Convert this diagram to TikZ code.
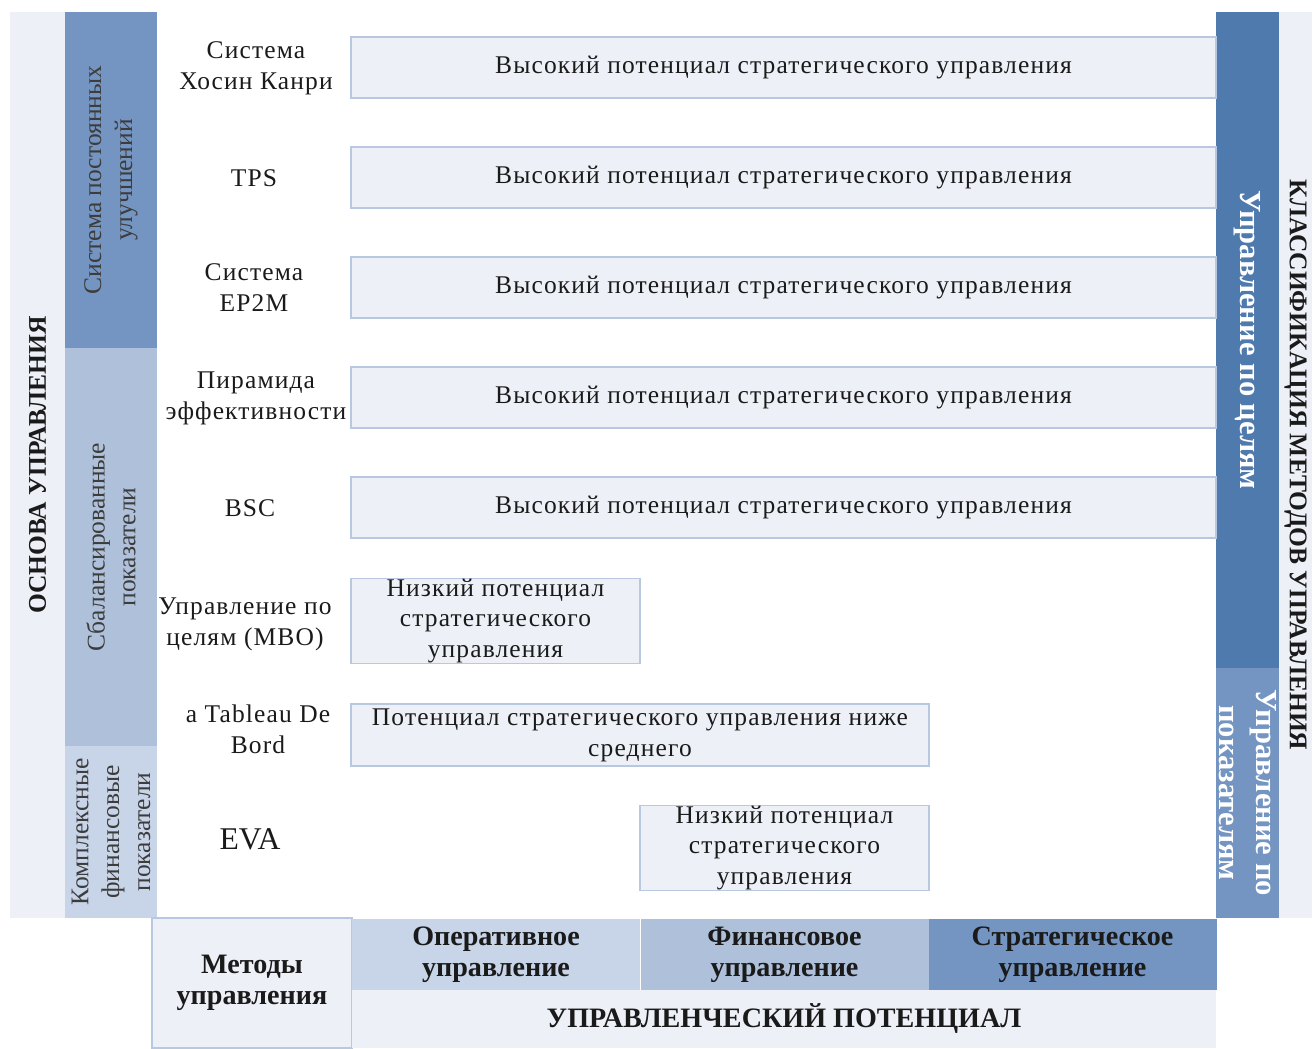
\documentclass[tikz,border=0pt]{standalone}
\usepackage{fontspec}
\setmainfont{Liberation Serif}
\newfontfamily\widefont{Liberation Serif}[LetterSpace=4.5]
\definecolor{pale}{HTML}{EDF1F7}
\definecolor{light}{HTML}{C8D5E8}
\definecolor{medium}{HTML}{AFC1DA}
\definecolor{strong}{HTML}{7495C1}
\definecolor{deep}{HTML}{4F7AAE}
\definecolor{rim}{HTML}{B7C8E0}
\definecolor{ink}{HTML}{1A1A1A}
\definecolor{greyink}{HTML}{3C3C3C}

\begin{document}
\begin{tikzpicture}[x=0.2mm,y=-0.2mm,
  every node/.style={font=\widefont\fontsize{14.5}{17.6}\selectfont,align=center,inner sep=0pt,text=ink},
  band/.style={fill=#1,minimum height=18.4mm,font=\fontsize{14.5}{17.6}\selectfont,text=greyink},
  potbox/.style={fill=pale,draw=rim,line width=1pt},
  bigbold/.style={font=\fontsize{17.4}{21}\selectfont\bfseries},
  headcell/.style={fill=#1,minimum height=14.2mm,minimum width=57.6mm,font=\fontsize{16}{17.6}\selectfont\bfseries}]
\useasboundingbox (0,0) rectangle (1314,1048);

% left side
\node[fill=pale,minimum width=181.2mm,minimum height=11mm,rotate=90,font=\fontsize{14.5}{17.6}\selectfont\bfseries] (osnova) at (37.5,465) {ОСНОВА УПРАВЛЕНИЯ};
\node[band=strong,minimum width=67.2mm,rotate=90] (spu) at (111,180) {Система постоянных\\улучшений};
\node[band=medium,minimum width=79.6mm,rotate=90] (sp) at (111,547) {Сбалансированные\\показатели};
\node[band=light,minimum width=34.4mm,rotate=90] (kfp) at (111,832) {Комплексные\\финансовые\\показатели};

% right side
\node[fill=deep,minimum width=131.2mm,minimum height=12.6mm,rotate=-90,text=white,bigbold] (upc) at (1247.5,340) {Управление по целям};
\node[fill=strong,minimum width=50mm,minimum height=12.6mm,rotate=-90,text=white,bigbold] (upp) at (1247.5,793) {Управление по\\показателям};
\node[fill=pale,minimum width=181.2mm,minimum height=6.6mm,rotate=-90,font=\fontsize{14.5}{17.6}\selectfont\bfseries] (klass) at (1295.5,465) {КЛАССИФИКАЦИЯ МЕТОДОВ УПРАВЛЕНИЯ};

% methods
\node (hosin) at (256,68) {Система\\Хосин Канри};
\node (tps) at (254,178) {TPS};
\node (ep2m) at (254,288) {Система\\EP2M};
\node (pyr) at (256,398) {Пирамида\\эффективности};
\node (bsc) at (250,508) {BSC};
\node (mbo) at (245,624) {Управление по\\целям (MBO)};
\node (tdb) at (258,729) {a Tableau De\\Bord};
\node[font=\fontsize{18}{21}\selectfont] (eva) at (250,839) {EVA};

% potential
\node[potbox,minimum width=173mm,minimum height=12.2mm] (hosinpot) at (783.5,67.5) {Высокий потенциал стратегического управления};
\node[potbox,minimum width=173mm,minimum height=12.2mm] (tpspot) at (783.5,177.5) {Высокий потенциал стратегического управления};
\node[potbox,minimum width=173mm,minimum height=12.2mm] (ep2mpot) at (783.5,287.5) {Высокий потенциал стратегического управления};
\node[potbox,minimum width=173mm,minimum height=12.2mm] (pyrpot) at (783.5,397.5) {Высокий потенциал стратегического управления};
\node[potbox,minimum width=173mm,minimum height=12.2mm] (bscpot) at (783.5,507.5) {Высокий потенциал стратегического управления};
\node[potbox,minimum width=57.8mm,minimum height=16mm] (mbopot) at (495.5,621) {Низкий потенциал\\стратегического\\управления};
\node[potbox,minimum width=115.6mm,minimum height=12.4mm] (tdbpot) at (640,735) {Потенциал стратегического управления ниже\\среднего};
\node[potbox,minimum width=57.8mm,minimum height=16mm] (evapot) at (784.5,848) {Низкий потенциал\\стратегического\\управления};

% bottom
\node[fill=pale,draw=rim,line width=1pt,minimum width=40mm,minimum height=26mm,font=\fontsize{16}{17.6}\selectfont\bfseries] (metody) at (252,983) {Методы\\управления};
\node[headcell=light] (oper) at (496,954.5) {Оперативное\\управление};
\node[headcell=medium] (fin) at (784.5,954.5) {Финансовое\\управление};
\node[headcell=strong] (strat) at (1072.5,954.5) {Стратегическое\\управление};
\node[fill=pale,minimum width=172.8mm,minimum height=11.6mm,font=\fontsize{16}{17.6}\selectfont\bfseries] (upot) at (784,1019) {УПРАВЛЕНЧЕСКИЙ ПОТЕНЦИАЛ};

\end{tikzpicture}
\end{document}
